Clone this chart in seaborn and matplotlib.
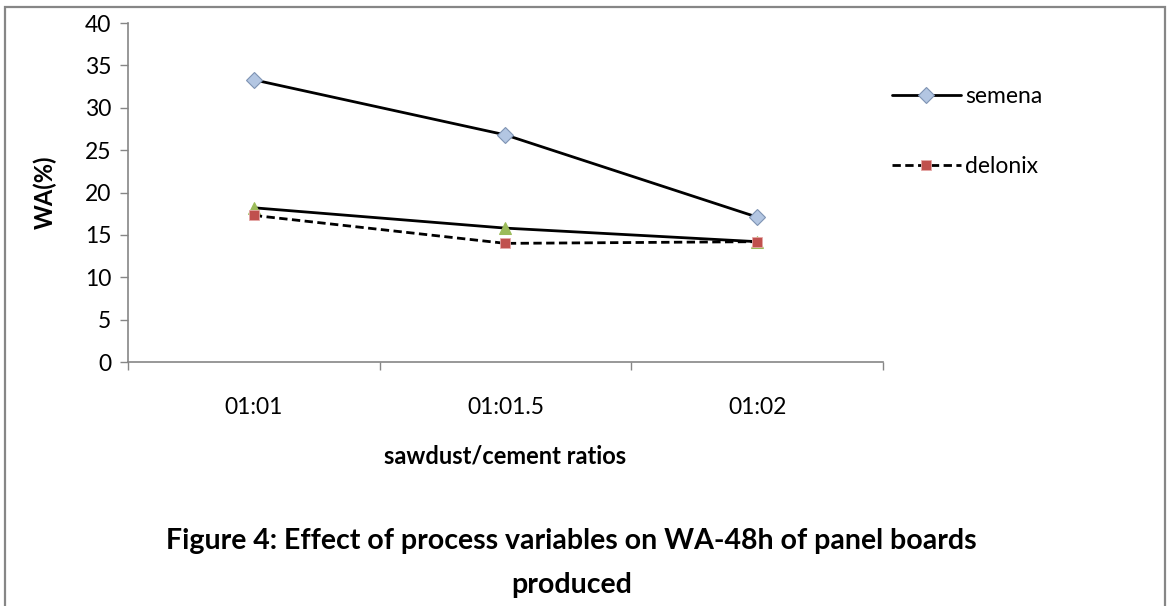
import numpy as np
import pandas as pd
import seaborn as sns
import matplotlib.pyplot as plt
from matplotlib.patches import Rectangle
from matplotlib.ticker import FixedLocator

# data
ratios = ["01:01", "01:01.5", "01:02"]
semena = [33.3, 26.8, 17.1]
delonix = [17.3, 14.0, 14.2]
third = [18.2, 15.8, 14.2]

sns.set_theme(style="white")
plt.rcParams['font.family'] = ['Lato', 'DejaVu Sans']
plt.rcParams['text.color'] = 'black'
plt.rcParams['axes.labelcolor'] = 'black'

fig = plt.figure(figsize=(11.71, 6.06), dpi=100)
ax = fig.add_axes([0.1093, 0.4026, 0.6447, 0.5594])

# solid line with green triangles (no legend entry in the original)
sns.lineplot(x=ratios, y=third, ax=ax, color="black", linewidth=2.0,
             marker="^", markersize=8, markerfacecolor="#9bbb59",
             markeredgecolor="#9bbb59", sort=False, legend=False)
sns.lineplot(x=ratios, y=delonix, ax=ax, color="black", linewidth=2.0,
             linestyle=(0, (3, 1.6)), marker="s", markersize=7.5,
             markerfacecolor="#c0504d", markeredgecolor="#e6a9a8",
             markeredgewidth=0.6, sort=False, label="delonix")
sns.lineplot(x=ratios, y=semena, ax=ax, color="black", linewidth=2.0,
             marker="D", markersize=8, markerfacecolor="#b3c6e2",
             markeredgecolor="#7f93b3", markeredgewidth=0.8,
             sort=False, label="semena")

ax.set_xlim(-0.5, 2.5)
ax.set_ylim(0, 40)
ax.set_yticks(np.arange(0, 41, 5))
ax.set_xticks(range(len(ratios)))
ax.set_xticklabels(ratios)
ax.xaxis.set_minor_locator(FixedLocator([-0.5, 0.5, 1.5, 2.5]))

grey = "#868686"
for side in ["top", "right"]:
    ax.spines[side].set_visible(False)
for side in ["left", "bottom"]:
    ax.spines[side].set_color(grey)
    ax.spines[side].set_linewidth(1.2)

ax.tick_params(axis="y", which="major", direction="out", length=6, width=1,
               color=grey, labelsize=16.5, labelcolor="black", pad=6,
               left=True)
ax.tick_params(axis="x", which="major", length=0, labelsize=16.5,
               labelcolor="black", pad=25)
ax.tick_params(axis="x", which="minor", direction="out", length=6, width=1,
               color=grey, bottom=True)

ax.set_xlabel("sawdust/cement ratios", fontsize=17, fontweight="bold",
              labelpad=19)
ax.set_ylabel("WA(%)", fontsize=17, fontweight="bold", labelpad=20)

handles, labels = ax.get_legend_handles_labels()
order = [labels.index("semena"), labels.index("delonix")]
fig.legend([handles[i] for i in order], [labels[i] for i in order],
           loc="upper left", bbox_to_anchor=(0.754, 0.873), frameon=False,
           fontsize=16.5, handlelength=3.0, handletextpad=0.2,
           labelspacing=2.12, borderaxespad=0)
if ax.get_legend() is not None:
    ax.get_legend().remove()

fig.text(0.488, 0.071, "Figure 4: Effect of process variables on WA-48h of panel boards\nproduced",
         ha="center", va="center", fontsize=20.5, fontweight="bold",
         linespacing=1.85)

# outer frame of the chart area
fig.patches.append(Rectangle((5 / 1171, -0.05), 1160 / 1171, 1.05 - 7 / 606,
                             transform=fig.transFigure, fill=False,
                             edgecolor=grey, linewidth=1.6))

fig.savefig("out.png", dpi=100)
